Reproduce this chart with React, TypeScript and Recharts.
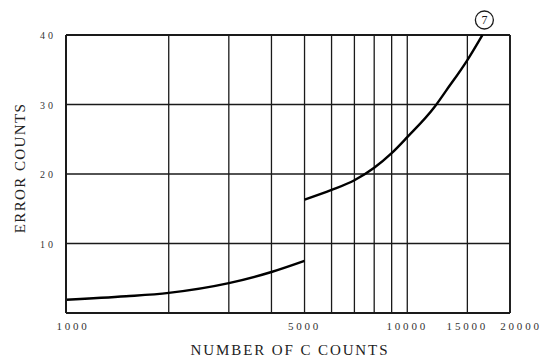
import React from 'react';
import { LineChart, Line, XAxis, YAxis, CartesianGrid, ReferenceDot, ReferenceLine, Label } from 'recharts';

// counts on a log axis, error counts on a linear one
const lowerCounts = [1000, 1500, 2000, 3000, 4000, 5000];
const lowerErrors = [1.9, 2.4, 2.9, 4.3, 5.9, 7.5];
const upperCounts = [5000, 6000, 7000, 8000, 9000, 10000, 12000, 13000, 15000, 16600];
const upperErrors = [16.3, 17.7, 19.1, 20.9, 23.0, 25.3, 29.6, 32.0, 36.4, 40];

const xTicks = [1000, 2000, 3000, 4000, 5000, 6000, 7000, 8000, 9000, 10000, 15000, 20000];
const xLabelled = [1000, 5000, 10000, 15000, 20000];
const yTicks = [0, 10, 20, 30, 40];
const curveMark = { count: 16600, errors: 40, label: '7' };

const lower = lowerCounts.map((c, i) => ({ count: c, errors: lowerErrors[i] }));
const upper = upperCounts.map((c, i) => ({ count: c, errors: upperErrors[i] }));

const INK = '#1a1a1a';
const FONT = '"Liberation Serif", "DejaVu Serif", serif';

const XTick = (props: any) => {
  const { x, y, payload } = props;
  const v = payload.value;
  if (!xLabelled.includes(v)) return null;
  const dx = v === 1000 ? 7 : v === 20000 ? 11 : 0;
  return (
    <text x={x + dx} y={y + 9} textAnchor="middle" fontSize={11} letterSpacing={2.8} fill="#333" fontFamily={FONT}>
      {v}
    </text>
  );
};

const YTick = (props: any) => {
  const { x, y, payload } = props;
  if (payload.value === 0) return null;
  return (
    <text x={x - 2} y={y + 4} textAnchor="end" fontSize={10} letterSpacing={3} fill="#333" fontFamily={FONT}>
      {payload.value}
    </text>
  );
};

const CircledNumber = (props: any) => {
  const { cx, cy } = props;
  return (
    <g>
      <circle cx={cx + 2} cy={cy - 15} r={9} fill="#fff" stroke={INK} strokeWidth={1.3} />
      <text x={cx + 2} y={cy - 11} textAnchor="middle" fontSize={12} fontFamily={FONT} fill={INK}>
        {curveMark.label}
      </text>
    </g>
  );
};

const App: React.FC = () => (
  <div style={{ position: 'absolute', left: 0, top: 0, width: 544, height: 364, background: '#fff' }}>
    <LineChart width={544} height={364} margin={{ top: 35, right: 34, left: 0, bottom: 21 }}>
      <CartesianGrid stroke={INK} strokeWidth={1.3} horizontal vertical />
      <XAxis
        dataKey="count"
        type="number"
        scale="log"
        domain={[1000, 20000]}
        ticks={xTicks}
        allowDataOverflow
        interval={0}
        tick={<XTick />}
        tickLine={false}
        axisLine={{ stroke: INK, strokeWidth: 2 }}
        height={30}
      >
        <Label
          content={() => (
            <text x={290} y={355} textAnchor="middle" fontSize={15} letterSpacing={1.9} fill="#222" fontFamily={FONT}>
              NUMBER OF C COUNTS
            </text>
          )}
        />
      </XAxis>
      <YAxis
        dataKey="errors"
        type="number"
        domain={[0, 40]}
        ticks={yTicks}
        interval={0}
        tick={<YTick />}
        tickLine={false}
        axisLine={{ stroke: INK, strokeWidth: 2 }}
        width={66}
      >
        <Label
          content={() => (
            <text
              x={20}
              y={168}
              transform="rotate(-90, 20, 168)"
              textAnchor="middle"
              dominantBaseline="central"
              fontSize={15}
              letterSpacing={1.4}
              fill="#222"
              fontFamily={FONT}
            >
              ERROR COUNTS
            </text>
          )}
        />
      </YAxis>
      <ReferenceLine x={20000} stroke={INK} strokeWidth={1.8} />
      <ReferenceLine y={40} stroke={INK} strokeWidth={1.8} />
      <Line data={lower} dataKey="errors" type="monotone" stroke="#000" strokeWidth={2.4} dot={false} isAnimationActive={false} />
      <Line data={upper} dataKey="errors" type="monotone" stroke="#000" strokeWidth={2.4} dot={false} isAnimationActive={false} />
      <ReferenceDot x={curveMark.count} y={curveMark.errors} r={0} shape={<CircledNumber />} ifOverflow="visible" />
    </LineChart>
  </div>
);

export default App;
